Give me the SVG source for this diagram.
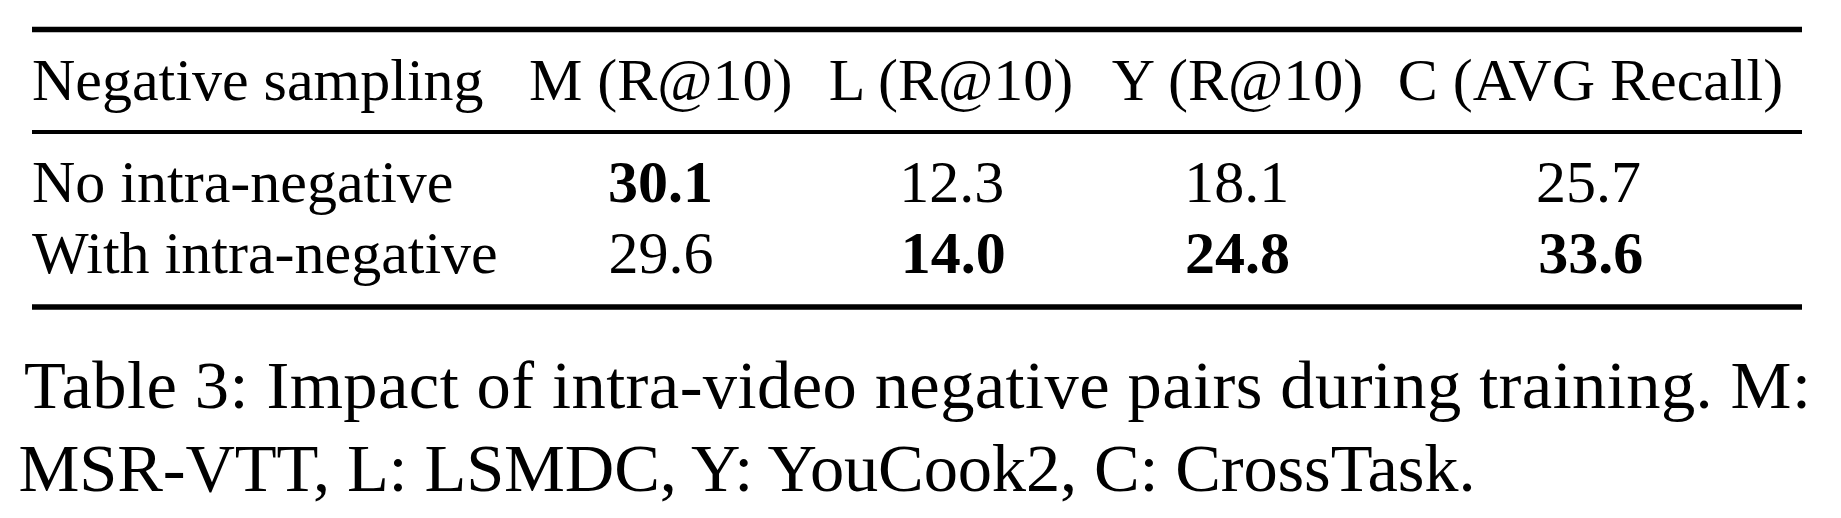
<svg xmlns="http://www.w3.org/2000/svg" width="1841" height="518" viewBox="0 0 1841 518">
<style>
text{font-family:"Liberation Serif","Times New Roman",serif;fill:#000}
.t{font-size:60px}
.c{text-anchor:middle}
.b{font-weight:bold}
.cap{font-size:68.5px}
.rule{stroke:#000}
</style>
<rect width="1841" height="518" fill="#fff"/>
<g id="rules">
<line class="rule" x1="32" y1="29.5" x2="1802" y2="29.5" stroke-width="5.3"/>
<line class="rule" x1="32" y1="132" x2="1802" y2="132" stroke-width="4"/>
<line class="rule" x1="32" y1="307" x2="1802" y2="307" stroke-width="5.5"/>
</g>
<g id="header">
<text class="t" x="32" y="100">Negative sampling</text>
<text class="t c" x="660.7" y="100">M (R@10)</text>
<text class="t c" x="951" y="100">L (R@10)</text>
<text class="t c" x="1237.5" y="100">Y (R@10)</text>
<text class="t c" x="1590.5" y="100">C (AVG Recall)</text>
</g>
<g id="row1">
<text class="t" x="32" y="201.7">No intra-negative</text>
<text class="t c b" x="660.5" y="201.7">30.1</text>
<text class="t c" x="951.7" y="201.7">12.3</text>
<text class="t c" x="1236.7" y="201.7">18.1</text>
<text class="t c" x="1588.5" y="201.7">25.7</text>
</g>
<g id="row2">
<text class="t" x="32" y="273.3">With intra-negative</text>
<text class="t c" x="661" y="273.3">29.6</text>
<text class="t c b" x="953.3" y="273.3">14.0</text>
<text class="t c b" x="1237.5" y="273.3">24.8</text>
<text class="t c b" x="1590.8" y="273.3">33.6</text>
</g>
<g id="caption">
<text class="cap" x="24" y="408.3" textLength="1787" lengthAdjust="spacing">Table 3: Impact of intra-video negative pairs during training. M:</text>
<text class="cap" x="18.5" y="490.7" textLength="1457" lengthAdjust="spacing">MSR-VTT, L: LSMDC, Y: YouCook2, C: CrossTask.</text>
</g>
</svg>
